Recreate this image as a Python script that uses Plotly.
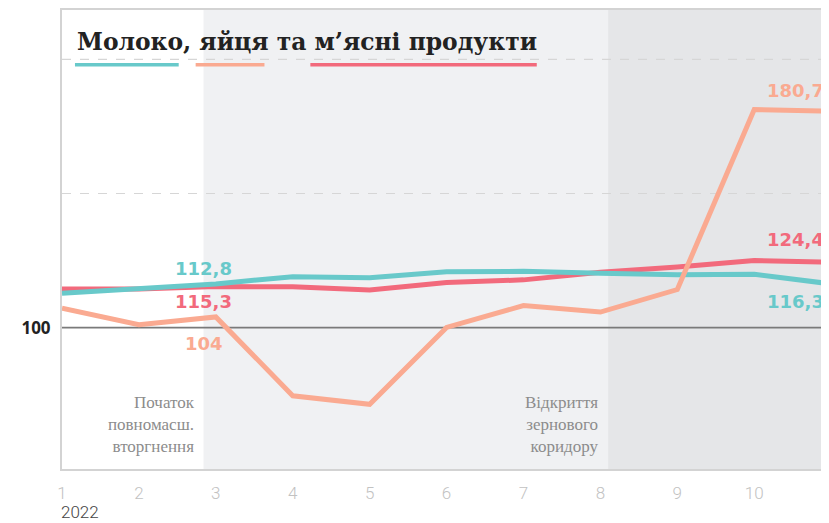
import plotly.graph_objects as go

# ── Data ────────────────────────────────────────────────────────────────────
MONTHS = [1, 2, 3, 4, 5, 6, 7, 8, 9, 10, 11]
MILK = [112.8, 114.4, 116.3, 119.0, 118.6, 120.8, 121.0, 120.3, 119.7, 119.9, 116.3]
EGGS = [107.2, 101.1, 104.0, 74.6, 71.4, 100.1, 108.2, 105.8, 114.2, 181.3, 180.7]
MEAT = [114.4, 114.4, 115.3, 115.2, 114.0, 116.8, 117.8, 120.6, 122.6, 125.0, 124.4]
TICK_MONTHS = [1, 2, 3, 4, 5, 6, 7, 8, 9, 10, 11]
YEAR_LABEL = "2022"

INVASION_X = 2.84      # 24 лютого
CORRIDOR_X = 8.1       # відкриття зернового коридору

# ── Colours ─────────────────────────────────────────────────────────────────
TEAL = "#68c9ca"
SALMON = "#faaa91"
RED = "#f26a7c"
LIGHT_BG = "#f0f1f3"
DARK_BG = "#e5e6e8"

# the page body has an 8px margin, so the plot is laid out 8px up/left
X_RANGE = [1, 11.05]
Y_RANGE = [47.3, 218.4]
PLOT_L, PLOT_W, PLOT_B, PLOT_H = 62, 775, 469, 461   # on screen


def px(x):
    return (x - PLOT_L) / PLOT_W


def py(y):
    return (PLOT_B - y) / PLOT_H


fig = go.Figure()

for name, vals, color in [("М’ясні продукти", MEAT, RED),
                          ("Молоко", MILK, TEAL),
                          ("Яйця", EGGS, SALMON)]:
    fig.add_trace(go.Scatter(
        x=MONTHS, y=vals, mode="lines", name=name,
        line=dict(color=color, width=5),
        showlegend=False,
    ))

# background periods
fig.add_shape(type="rect", xref="x", yref="paper", x0=INVASION_X, x1=CORRIDOR_X,
              y0=0, y1=1, fillcolor=LIGHT_BG, line_width=0, layer="below")
fig.add_shape(type="rect", xref="x", yref="paper", x0=CORRIDOR_X, x1=12,
              y0=0, y1=1, fillcolor=DARK_BG, line_width=0, layer="below")

# grid
for yv in [150, 200]:
    fig.add_shape(type="line", xref="paper", yref="y", x0=0, x1=1, y0=yv, y1=yv,
                  line=dict(color="#d6d6d6", width=1.2, dash="dash"), layer="below")
fig.add_shape(type="line", xref="paper", yref="y", x0=0, x1=1, y0=100, y1=100,
              line=dict(color="#7a7a7a", width=1.6), layer="below")

# title + colour key underlines
fig.add_annotation(xref="paper", yref="paper", x=px(75), y=py(40),
                   xanchor="left", yanchor="middle", showarrow=False,
                   text="<b>Молоко, яйця та м’ясні продукти</b>",
                   font=dict(family="DejaVu Serif", size=23.4, color="#222222"))
for x0, x1, color in [(75, 179, TEAL), (196, 265, SALMON), (311, 538, RED)]:
    fig.add_shape(type="line", xref="paper", yref="paper",
                  x0=px(x0), x1=px(x1), y0=py(63), y1=py(63),
                  line=dict(color=color, width=3.5))

# value labels
LABEL_FONT = "DejaVu Sans"
for x, y, txt, color in [(2.84, 122.1, "112,8", TEAL),
                         (2.84, 109.8, "115,3", RED),
                         (2.84, 94.1, "104", SALMON)]:
    fig.add_annotation(x=x, y=y, text=f"<b>{txt}</b>", showarrow=False,
                       xanchor="center", yanchor="middle",
                       font=dict(family=LABEL_FONT, size=18, color=color))
for y, txt, color in [(188.4, "180,7", SALMON), (132.7, "124,4", RED),
                      (109.7, "116,3", TEAL)]:
    fig.add_annotation(x=10.934, y=y, text=f"<b>{txt}</b>",
                       showarrow=False, xanchor="right", yanchor="middle",
                       font=dict(family=LABEL_FONT, size=18, color=color))

# event notes
NOTE_FONT = dict(family="Liberation Serif", size=17, color="#8c8c8c")
for x, txt in [(INVASION_X, "Початок<br>повномасш.<br>вторгнення"),
               (CORRIDOR_X, "Відкриття<br>зернового<br>коридору")]:
    fig.add_annotation(x=x, yref="paper", y=0.025, xshift=-7, text=txt,
                       showarrow=False, xanchor="right", yanchor="bottom",
                       align="right", font=NOTE_FONT)

# year under the first month
fig.add_annotation(xref="paper", yref="paper", x=px(59), y=py(512),
                   text=YEAR_LABEL, showarrow=False, xanchor="left", yanchor="middle",
                   font=dict(family="Roboto", size=17, color="#444444", weight=300))

fig.update_layout(
    width=829, height=523,
    margin=dict(l=PLOT_L - 8, r=0, t=0, b=523 - (PLOT_B - 8)),
    paper_bgcolor="white", plot_bgcolor="white",
    xaxis=dict(range=X_RANGE, tickvals=TICK_MONTHS, showgrid=False, zeroline=False,
               showline=True, mirror=True, linecolor="#d3d3d3", linewidth=2,
               ticks="outside", ticklen=8, tickcolor="rgba(0,0,0,0)",
               tickfont=dict(family="Roboto", size=17, color="#c2c2c2", weight=300)),
    yaxis=dict(range=Y_RANGE, tickvals=[100], ticktext=["<b>100</b>"],
               showgrid=False, zeroline=False,
               showline=True, mirror=True, linecolor="#d3d3d3", linewidth=2,
               ticks="outside", ticklen=6, tickcolor="rgba(0,0,0,0)",
               tickfont=dict(family="Noto Sans", size=17, color="#222222")),
)

fig.write_html("out.html")
